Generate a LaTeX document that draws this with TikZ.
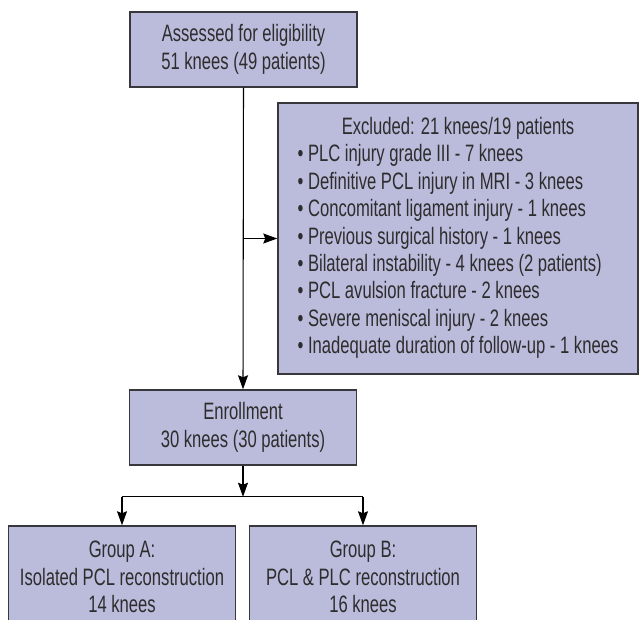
\documentclass[tikz,border=0pt]{standalone}
\usepackage{fontspec}
\setmainfont{Liberation Sans}[FakeStretch=0.7]
\usepackage{tikz}
\usepackage{xcolor}
\usetikzlibrary{calc,arrows.meta}
\definecolor{boxfill}{RGB}{187,187,220}
\definecolor{boxline}{RGB}{55,55,60}
\definecolor{textgray}{RGB}{45,45,45}

\begin{document}
\begin{tikzpicture}[x=0.75pt,y=-0.75pt]
        \tikzstyle{every node}=[font=\fontsize{17.8}{20.6}\selectfont, text=textgray]
        \tikzstyle{flowbox}=[draw=boxline, fill=boxfill, line width=1.1pt, rectangle, inner sep=0pt, align=center, minimum width=170.25pt, minimum height=56.25pt]
        \tikzstyle{flowarrow}=[-{Stealth[length=10.5pt,width=7.5pt,inset=1.5pt]}, line width=0.8pt]
        \path[use as bounding box, clip] (0,0) rectangle (640,619);

        \node[flowbox] (assess) at (243.5,49.5) {Assessed for eligibility\\51 knees (49 patients)};
        \node[flowbox, minimum width=270pt, minimum height=203.25pt] (excl) at (458,238.5) {%
          \begin{tabular}{@{}l@{}}
            \multicolumn{1}{@{}c@{}}{Excluded: 21 knees/19 patients}\\
            • PLC injury grade III - 7 knees\\
            • Definitive PCL injury in MRI - 3 knees\\
            • Concomitant ligament injury - 1 knees\\
            • Previous surgical history - 1 knees\\
            • Bilateral instability - 4 knees (2 patients)\\
            • PCL avulsion fracture - 2 knees\\
            • Severe meniscal injury - 2 knees\\
            • Inadequate duration of follow-up - 1 knees
          \end{tabular}};
        \node[flowbox] (enroll) at (243,427.5) {Enrollment\\30 knees (30 patients)};
        \node[flowbox, minimum height=76.5pt] (groupA) at (122,577) {Group A:\\Isolated PCL reconstruction\\14 knees};
        \node[flowbox, minimum height=76.5pt] (groupB) at (363,577) {Group B:\\PCL \& PLC reconstruction\\16 knees};

        \coordinate (split) at ($(enroll.south)+(0,31)$);

        \draw[flowarrow] (assess.south) to (enroll.north);
        \draw[flowarrow] (assess.south |- excl.west) to (excl.west);
        \draw[flowarrow] (enroll.south) to (split);
        \draw[line width=0.8pt] (groupA.north |- split) to (groupB.north |- split);
        \draw[flowarrow] (groupA.north |- split) to (groupA.north);
        \draw[flowarrow] (groupB.north |- split) to (groupB.north);
\end{tikzpicture}
\end{document}
